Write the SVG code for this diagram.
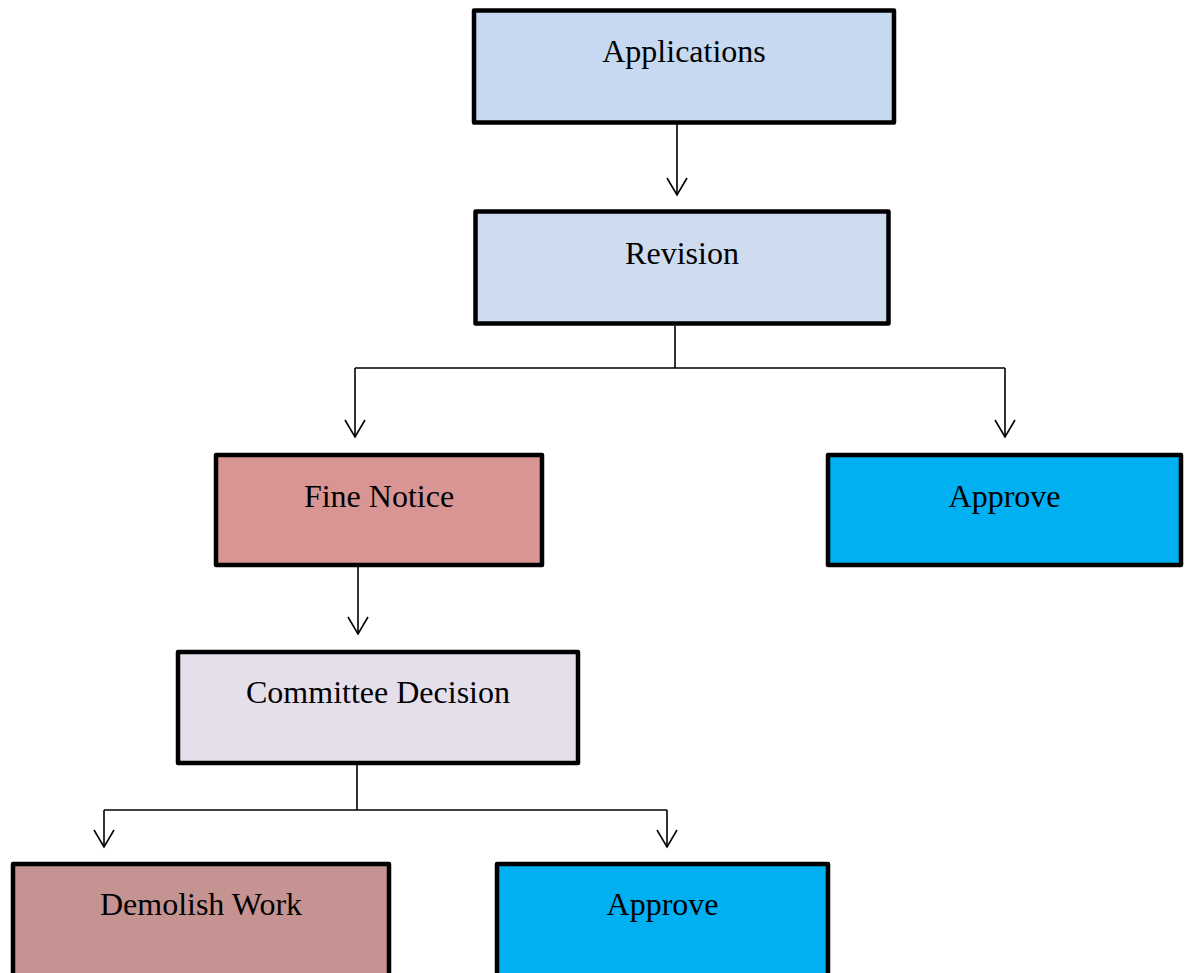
<svg xmlns="http://www.w3.org/2000/svg" width="1189" height="973" viewBox="0 0 1189 973">
  <style>
    .box { stroke: #000; stroke-width: 4.5; stroke-linejoin: round; }
    .label { font-family: "Liberation Serif", "Times New Roman", serif; font-size: 32px; fill: #000; text-anchor: middle; }
    .wire { fill: none; stroke: #000; stroke-width: 1.6; }
  </style>
  <defs>
    <!-- open V arrowhead, drawn along +x so orient="auto" points it down the line -->
    <marker id="open-arrow" viewBox="0 0 20 22" refX="18" refY="11" markerWidth="20" markerHeight="22" markerUnits="userSpaceOnUse" orient="auto">
      <path d="M1,1 L18,11 L1,21" fill="none" stroke="#000" stroke-width="1.6"/>
    </marker>
  </defs>

  <rect width="1189" height="973" fill="#fff"/>

  <!-- connectors -->
  <g id="connectors">
    <path class="wire" d="M677,124 V195" marker-end="url(#open-arrow)"/>
    <path class="wire" d="M675,326 V368"/>
    <path class="wire" d="M355,368 H1005"/>
    <path class="wire" d="M355,368 V437" marker-end="url(#open-arrow)"/>
    <path class="wire" d="M1005,368 V437" marker-end="url(#open-arrow)"/>
    <path class="wire" d="M358,567 V634" marker-end="url(#open-arrow)"/>
    <path class="wire" d="M357,765 V810"/>
    <path class="wire" d="M104,810 H667"/>
    <path class="wire" d="M104,810 V847" marker-end="url(#open-arrow)"/>
    <path class="wire" d="M667,810 V847" marker-end="url(#open-arrow)"/>
  </g>

  <g id="applications">
    <rect class="box" x="474" y="10.5" width="420" height="112" fill="#C6D9F1"/>
    <text class="label" x="684" y="62">Applications</text>
  </g>

  <g id="revision">
    <rect class="box" x="475.5" y="211.5" width="413" height="112" fill="#CFDCF0"/>
    <text class="label" x="682" y="264">Revision</text>
  </g>

  <g id="fine-notice">
    <rect class="box" x="216" y="455" width="326" height="110" fill="#D99594"/>
    <text class="label" x="379" y="507">Fine Notice</text>
  </g>

  <g id="approve-top">
    <rect class="box" x="828" y="455" width="353" height="110" fill="#00B0F0"/>
    <text class="label" x="1004.5" y="507">Approve</text>
  </g>

  <g id="committee-decision">
    <rect class="box" x="178" y="652" width="400" height="111" fill="#E5DFEC"/>
    <text class="label" x="378" y="703">Committee Decision</text>
  </g>

  <g id="demolish-work">
    <rect class="box" x="13" y="864" width="376" height="130" fill="#C59392"/>
    <text class="label" x="201" y="915">Demolish Work</text>
  </g>

  <g id="approve-bottom">
    <rect class="box" x="497" y="864" width="331" height="130" fill="#00B0F0"/>
    <text class="label" x="662.5" y="915">Approve</text>
  </g>
</svg>
